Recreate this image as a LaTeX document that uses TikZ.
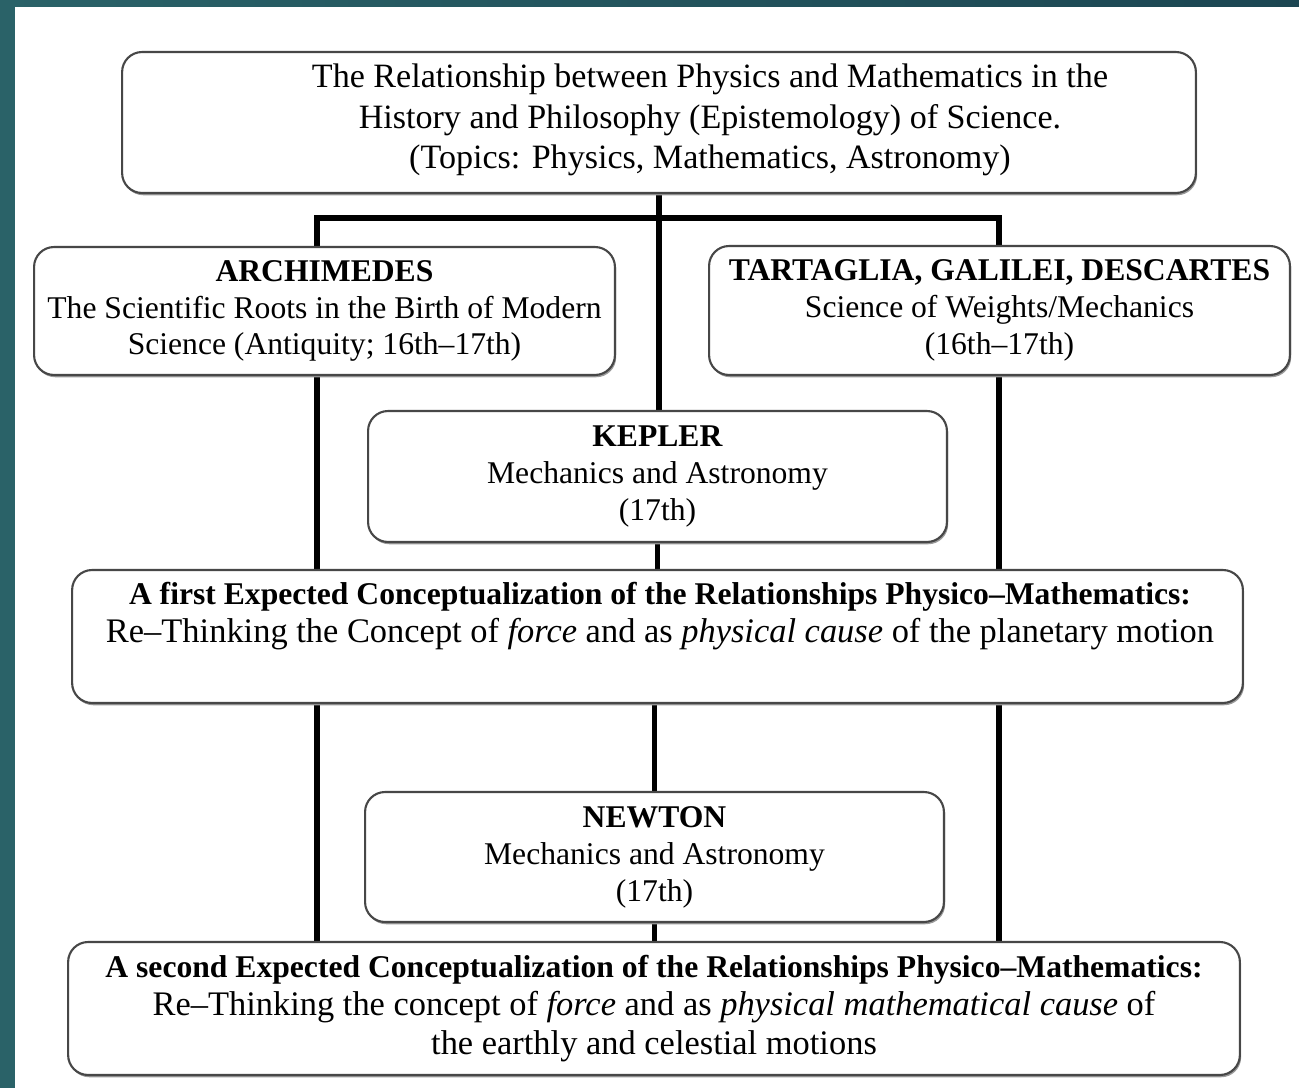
\documentclass[tikz,border=0pt]{standalone}
\usepackage{fontspec}
\setmainfont{Liberation Serif}
\usetikzlibrary{backgrounds,shadows}
\definecolor{tealA}{RGB}{42,98,104}
\definecolor{tealB}{RGB}{28,70,82}
\newcommand{\bigreg}{\fontsize{19.6}{22}\selectfont}
\begin{document}
\begin{tikzpicture}[x=0.02cm,y=-0.02cm,
  box/.style={draw=black!72, line width=1.2pt, rounded corners=0.4cm, fill=white, inner sep=0pt, align=center,
    drop shadow={shadow xshift=0.7pt, shadow yshift=-1.3pt, fill=black!40, opacity=1}},
  txt/.style={align=center, font=\fontsize{18}{21}\selectfont},
  widetxt/.style={align=center, font=\fontsize{18}{22}\selectfont},
  toptxt/.style={align=center, font=\fontsize{19.4}{23}\selectfont},
  conn/.style={draw=black, line width=3pt}
]
% boxes
\node[box, txt, minimum width=21.48cm, minimum height=2.82cm] (top) at (659,122.5) {};
\node[toptxt] (topT) at (710,120) {The Relationship between Physics and Mathematics in the\\
  History and Philosophy (Epistemology) of Science.\\
  (Topics: Physics, Mathematics, Astronomy)};
\node[box, txt, minimum width=11.62cm, minimum height=2.56cm] (arch) at (324.5,311)
  {\textbf{ARCHIMEDES}\\The Scientific Roots in the Birth of Modern\\Science (Antiquity; 16th–17th)};
\node[box, txt, minimum width=11.62cm, minimum height=2.58cm] (tart) at (999.5,310.5)
  {\textbf{TARTAGLIA, GALILEI, DESCARTES}\\Science of Weights/Mechanics\\(16th–17th)};
\node[box, txt, minimum width=11.58cm, minimum height=2.62cm] (kepler) at (657.5,476.5)
  {\textbf{KEPLER}\\Mechanics and Astronomy\\(17th)};
\node[box, txt, minimum width=23.42cm, minimum height=2.66cm] (first) at (657.5,636.5) {};
\node[widetxt] (firstT) at (660,616)
  {\textbf{A first Expected Conceptualization of the Relationships Physico–Mathematics:}\\
   {\bigreg Re–Thinking the Concept of \textit{force} and as \textit{physical cause} of the planetary motion}};
\node[box, txt, minimum width=11.58cm, minimum height=2.6cm] (newton) at (654.5,857)
  {\textbf{NEWTON}\\Mechanics and Astronomy\\(17th)};
\node[box, widetxt, minimum width=23.44cm, minimum height=2.66cm] (second) at (654,1008.5)
  {\textbf{A second Expected Conceptualization of the Relationships Physico–Mathematics:}\\
   {\bigreg Re–Thinking the concept of \textit{force} and as \textit{physical mathematical cause} of}\\
   {\bigreg the earthly and celestial motions}};
\coordinate (barL) at (317,218);
\coordinate (barR) at (999,218);
\begin{scope}[on background layer]
  \fill[left color=tealA, right color=tealB] (0,0) rectangle (1299,1088);
  \fill[white] (15,7) rectangle (1299,1088);
  \draw[conn] (top.south) -- (top.south |- kepler.north);
  \draw[conn, line cap=rect] (barL) -- (barR);
  \draw[conn] (barL) -- (barL |- first.north);
  \draw[conn] (barR) -- (barR |- first.north);
  \draw[conn] (kepler.south) -- (kepler.south |- first.north);
  \draw[conn] (first.south -| barL) -- (barL |- second.north);
  \draw[conn] (first.south -| barR) -- (barR |- second.north);
  \draw[conn] (first.south -| newton.north) -- (newton.north);
  \draw[conn] (newton.south) -- (newton.south |- second.north);
\end{scope}
\useasboundingbox (0,0) rectangle (1299,1088);
\end{tikzpicture}
\end{document}
